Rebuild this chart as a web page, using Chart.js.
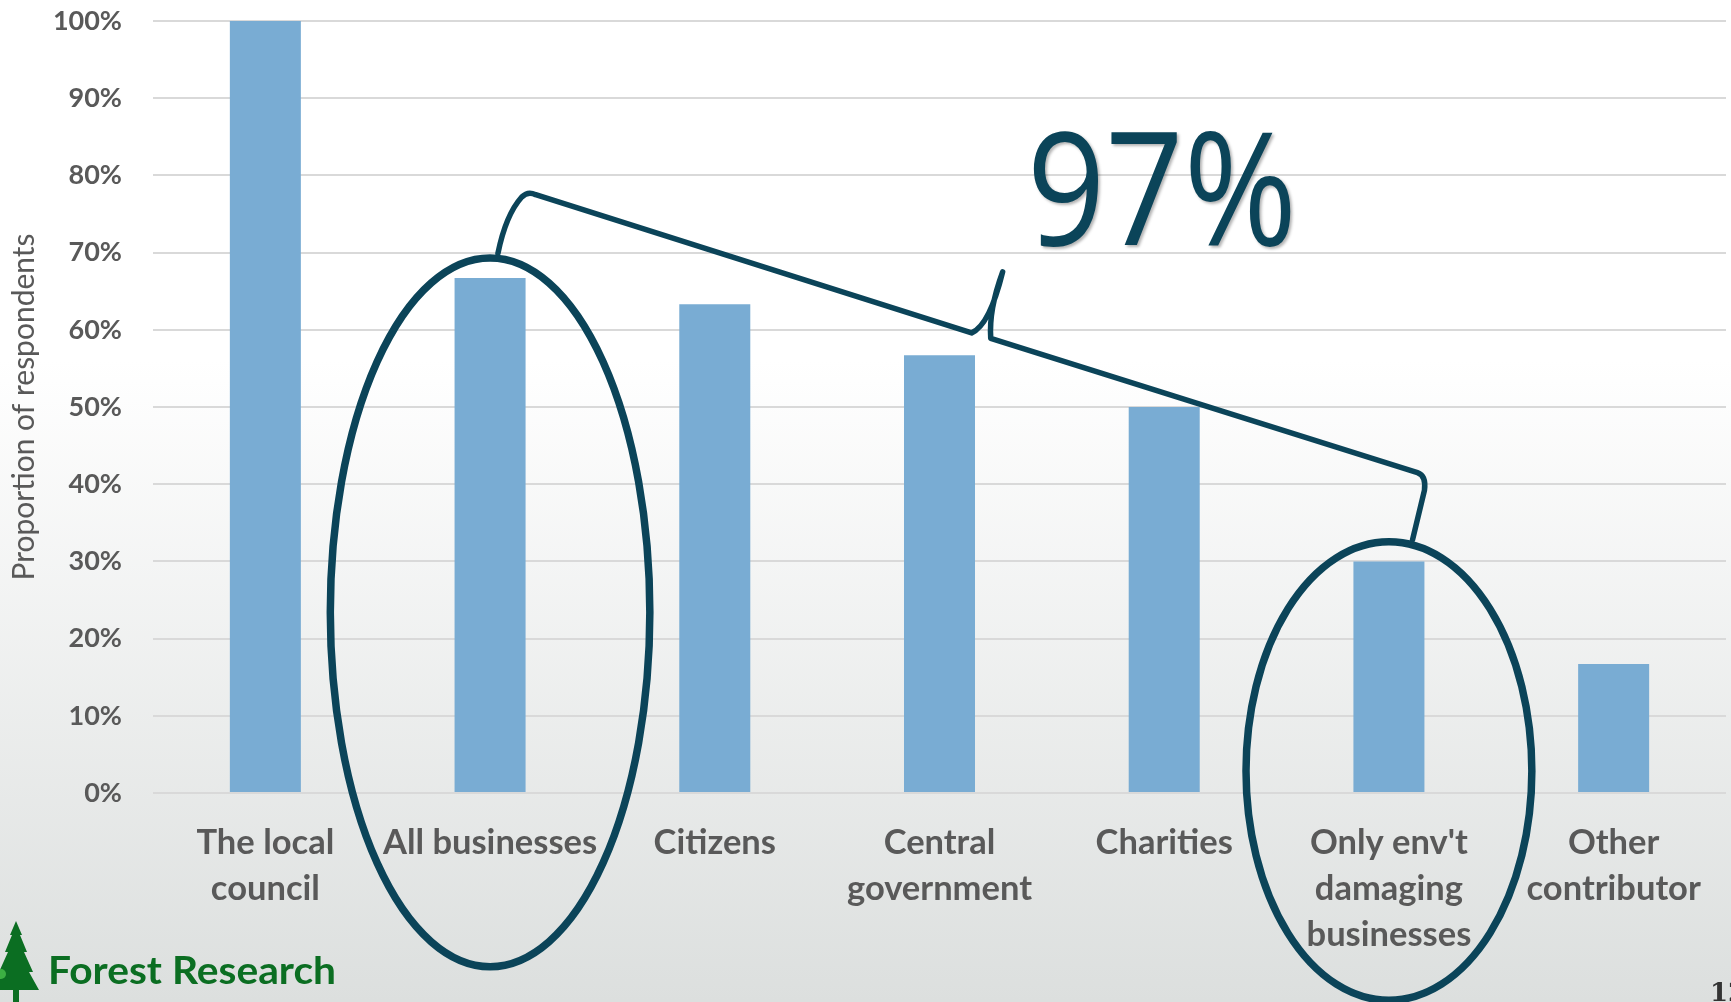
<!DOCTYPE html>
<html>
<head>
<meta charset="utf-8">
<title>Proportion of respondents</title>
<script src="https://cdn.jsdelivr.net/npm/chart.js@4.4.0/dist/chart.umd.min.js"></script>
<style>
  html, body { margin: 0; padding: 0; }
  body {
    width: 1731px; height: 1002px; overflow: hidden;
    background: linear-gradient(to bottom, #ffffff 0%, #ffffff 36%, #dcdfde 100%);
  }
  canvas { display: block; }
</style>
</head>
<body>
<canvas id="chart" width="1731" height="1002"></canvas>
<script>
// data
const categories = [
  ['The local', 'council'],
  'All businesses',
  'Citizens',
  ['Central', 'government'],
  'Charities',
  ["Only env't", 'damaging', 'businesses'],
  ['Other', 'contributor']
];
const shares = [100, 66.7, 63.3, 56.7, 50, 30, 16.7];
const yTicks = [0, 10, 20, 30, 40, 50, 60, 70, 80, 90, 100];
const calloutText = '97%';
const logoText = 'Forest Research';
const pageNumber = '12';

const ink = '#0b4459';
const grey = '#595959';

// annotation shapes, in (category index, percent) units
const ringAll = { i: 1, v: 23.4, ri: 0.711, rv: 45.9 };
const ringOnly = { i: 5, v: 2.85, ri: 0.636, rv: 29.7 };
const bracket = [
  ['M', 1.035, 69.9],
  ['Q', 1.070, 74.9, 1.141, 77.2],
  ['Q', 1.168, 78.0, 1.203, 77.5],
  ['L', 3.143, 59.6],
  ['Q', 3.223, 60.6, 3.281, 67.5],
  ['Q', 3.219, 62.6, 3.228, 58.9],
  ['L', 5.127, 41.5],
  ['Q', 5.167, 41.1, 5.158, 39.2],
  ['L', 5.105, 32.8]
];

const overlay = {
  id: 'overlay',
  afterDraw(chart) {
    const { ctx, scales: { x, y } } = chart;
    const x0 = x.getPixelForValue(0);
    const step = x.getPixelForValue(1) - x0;
    const px = i => x0 + i * step;
    const py = v => y.getPixelForValue(v);

    ctx.save();
    ctx.strokeStyle = ink;
    ctx.lineCap = 'round';
    ctx.lineJoin = 'round';

    // ellipses
    ctx.lineWidth = 7.5;
    [ringAll, ringOnly].forEach(r => {
      ctx.beginPath();
      ctx.ellipse(px(r.i), py(r.v), r.ri * step, py(0) - py(r.rv), 0, 0, Math.PI * 2);
      ctx.stroke();
    });

    // curly bracket
    ctx.lineWidth = 5.5;
    ctx.beginPath();
    bracket.forEach(c => {
      if (c[0] === 'M') ctx.moveTo(px(c[1]), py(c[2]));
      else if (c[0] === 'L') ctx.lineTo(px(c[1]), py(c[2]));
      else ctx.quadraticCurveTo(px(c[1]), py(c[2]), px(c[3]), py(c[4]));
    });
    ctx.stroke();

    // 97% callout
    ctx.font = '157px "Open Sans"';
    const w = ctx.measureText(calloutText).width;
    const k = 270 / w;
    ctx.translate(px(3.99), py(71.0));
    ctx.scale(k, 1);
    ctx.shadowColor = 'rgba(0,0,0,0.3)';
    ctx.shadowOffsetX = 2;
    ctx.shadowOffsetY = 2;
    ctx.shadowBlur = 3;
    ctx.fillStyle = ink;
    ctx.textAlign = 'center';
    ctx.textBaseline = 'alphabetic';
    ctx.fillText(calloutText, 0, 0);
    ctx.restore();

    // logo
    ctx.save();
    ctx.fillStyle = '#0b6e22';
    ctx.beginPath();
    const tree = [[16,921],[22,935],[20,935],[27,952],[24,952],[33,972],[29,972],[39,990],[19,990],[19,1002],[13,1002],
                  [13,990],[-7,990],[3,972],[-1,972],[8,952],[5,952],[12,935],[10,935]];
    tree.forEach((p, n) => n ? ctx.lineTo(p[0], p[1]) : ctx.moveTo(p[0], p[1]));
    ctx.closePath();
    ctx.fill();
    ctx.fillStyle = '#3cb043';
    ctx.beginPath();
    ctx.arc(1, 974, 5, 0, Math.PI * 2);
    ctx.fill();
    ctx.fillStyle = '#0b6e22';
    ctx.font = 'bold 38px Lato';
    ctx.textBaseline = 'alphabetic';
    const lw = ctx.measureText(logoText).width;
    ctx.translate(48, 984);
    ctx.scale(288 / lw, 1);
    ctx.fillText(logoText, 0, 0);
    ctx.restore();

    // page number
    ctx.save();
    ctx.fillStyle = '#333333';
    ctx.font = 'bold 26px "DejaVu Serif"';
    ctx.fillText(pageNumber, 1710, 1001);
    ctx.restore();
  }
};

new Chart(document.getElementById('chart'), {
  type: 'bar',
  data: {
    labels: categories,
    datasets: [{
      data: shares,
      backgroundColor: '#79acd3',
      borderWidth: 0,
      barPercentage: 0.316,
      categoryPercentage: 1
    }]
  },
  options: {
    responsive: false,
    animation: false,
    layout: { padding: { top: 21, right: 5, left: 0, bottom: 0 } },
    plugins: { legend: { display: false }, tooltip: { enabled: false } },
    scales: {
      x: {
        grid: { display: false, drawTicks: false },
        border: { display: false },
        ticks: {
          color: grey,
          font: { family: 'Lato', weight: 'bold', size: 34.5, lineHeight: 1.33 },
          padding: 27,
          maxRotation: 0,
          autoSkip: false
        },
        afterFit(scale) { scale.height = 209; }
      },
      y: {
        min: 0,
        max: 100,
        afterBuildTicks(scale) { scale.ticks = yTicks.map(v => ({ value: v })); },
        grid: { color: '#d9d9d9', lineWidth: 2, drawTicks: false },
        border: { display: false },
        ticks: {
          color: grey,
          font: { family: 'Lato', weight: 'bold', size: 27 },
          padding: 31,
          callback: v => v + '%'
        },
        title: {
          display: true,
          text: 'Proportion of respondents',
          color: grey,
          font: { family: 'Lato', size: 30 },
          padding: { top: 6, bottom: 0 }
        },
        afterFit(scale) {
          scale.width = 153;
          scale.paddingTop = 0;
          scale.paddingBottom = 0;
        }
      }
    }
  },
  plugins: [overlay]
});
</script>
</body>
</html>
